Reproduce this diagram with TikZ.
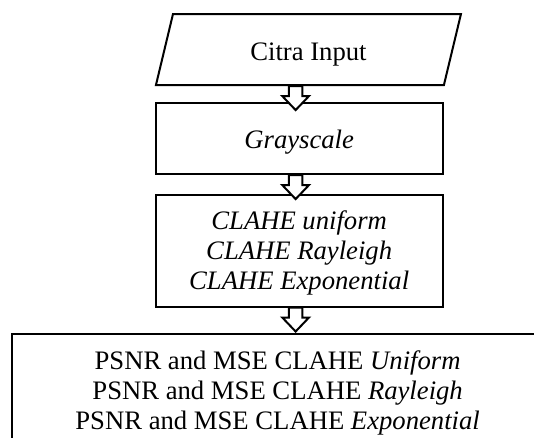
\documentclass[tikz,border=0pt]{standalone}
\usepackage{fontspec}
\setmainfont{Liberation Serif}
\usepackage{tikz}
\usepackage{xcolor}
\usetikzlibrary{positioning}
\usetikzlibrary{calc}
\usetikzlibrary{shapes.geometric}
\tikzstyle{io}=[trapezium, trapezium left angle=76.5, trapezium right angle=103.5, trapezium stretches body=true, draw, line width=0.9pt, minimum width=137.25pt, text height=10.2pt, text depth=0.75pt, inner ysep=10.5pt, inner xsep=0pt]
\tikzstyle{process}=[rectangle, draw, line width=0.9pt, minimum width=129.15pt, minimum height=31.95pt, inner sep=0pt, text height=10.1pt, text depth=0.9pt]
\tikzstyle{threeline}=[minimum height=50.4pt, text height=36.2pt, text depth=1.2pt]
\tikzstyle{flow}=[draw, fill=white, line width=0.9pt, to path={let \p1=(\tikztostart) in
    (\x1-4.6pt,\y1) -- (\x1-4.6pt,\y1-4.5pt) -- (\x1-7.6pt,\y1-4.5pt) -- (\x1-1.6pt,\y1-10.8pt)
    -- (\x1+4.4pt,\y1-4.5pt) -- (\x1+1.4pt,\y1-4.5pt) -- (\x1+1.4pt,\y1) -- cycle}]

\begin{document}
\begin{tikzpicture}[node distance = 7.2pt, every text node part/.style={align=center, font=\fontsize{12}{13.5}\selectfont}]
    \useasboundingbox (0,0) rectangle (240.3pt,-196.65pt);
    \clip (0,0) rectangle (240.3pt,-196.65pt);

    \node[io]      (input) at (138.8pt,-22.3pt) {Citra Input};
    \node[process] (gray)  [below = of input.bottom left corner, anchor=north west] {\textit{Grayscale}};
    \node[process, threeline] (clahe) [below = 8.3pt of gray]
        {\textit{CLAHE uniform}\\\textit{CLAHE Rayleigh}\\\textit{CLAHE Exponential}};
    \node[process, threeline, minimum width=239.4pt] (psnr) [below = 11.6pt of clahe, xshift=-9.7pt]
        {PSNR and MSE CLAHE \textit{Uniform}\\PSNR and MSE CLAHE \textit{Rayleigh}\\PSNR and MSE CLAHE \textit{Exponential}};

    \draw[flow] (gray.north |- input.south) to (gray.north);
    \draw[flow] (gray.south)  to (clahe.north);
    \draw[flow] (clahe.south) to (psnr.north);
\end{tikzpicture}
\end{document}
